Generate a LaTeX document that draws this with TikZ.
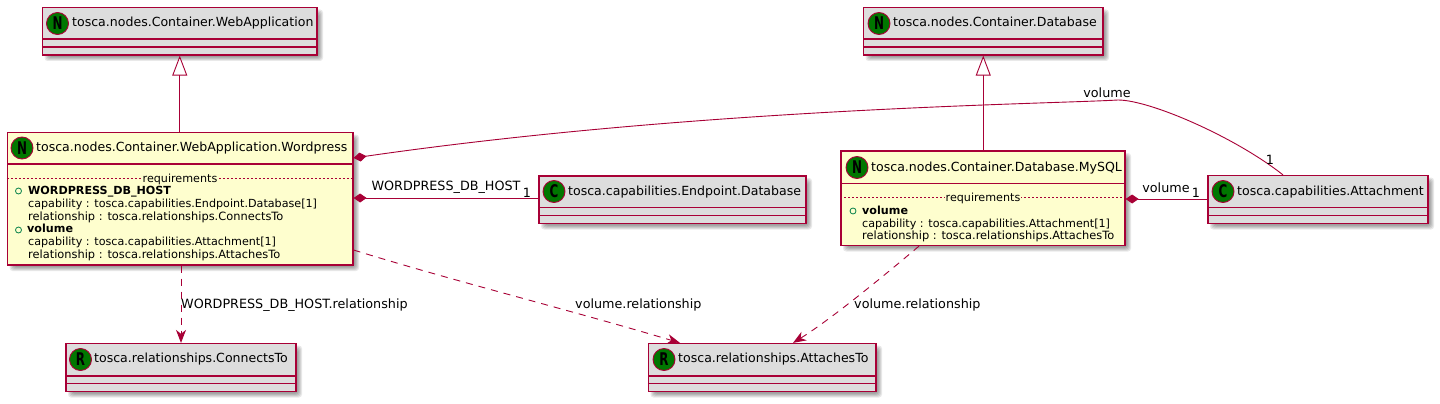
\documentclass[tikz,border=0pt]{standalone}
\usepackage{fontspec}
\usepackage{graphicx}
\setmainfont{DejaVu Sans}
\usetikzlibrary{arrows.meta,calc}
\definecolor{umlline}{HTML}{A80036}
\definecolor{umlfill}{HTML}{FEFECE}
\definecolor{umlgray}{HTML}{DDDDDD}
\definecolor{umlspot}{HTML}{007700}
\definecolor{umlplus}{HTML}{038048}
\newcommand{\spotletter}[1]{\scalebox{.85}[1.25]{#1}}
\tikzset{
  x=1pt,y=-1pt,
  boxline/.style={draw=umlline,line width=1.2pt},
  spot/.style={circle,draw=umlline,fill=umlspot,line width=.9pt,minimum size=22pt,inner sep=0pt,text=black,font=\fontsize{14}{14}\bfseries},
  titletext/.style={anchor=mid west,inner sep=0pt,font=\fontsize{12.55}{14}\selectfont},
  membertext/.style={anchor=mid west,inner sep=0pt,font=\fontsize{11.15}{12}\selectfont},
  relationtext/.style={anchor=mid west,inner sep=0pt,font=\fontsize{11.4}{12}\selectfont},
  memberbold/.style={anchor=mid west,inner sep=0pt,font=\fontsize{11.15}{12}\bfseries},
  sectiontext/.style={fill=umlfill,inner sep=1pt,font=\fontsize{11.15}{12}\selectfont},
  plusmark/.style={circle,draw=umlplus,line width=.8pt,minimum size=6pt,inner sep=0pt},
  edgetext/.style={inner sep=0pt,font=\fontsize{12.75}{14}\selectfont},
  edgeline/.style={draw=umlline,line width=.9pt},
  depline/.style={edgeline,dash pattern=on 7pt off 6pt,-{Stealth[length=13pt,width=10pt,inset=4pt,fill=umlline,sep=0pt]}},
  compline/.style={edgeline,{Diamond[length=13pt,width=9pt,fill=umlline]}-},
  genline/.style={edgeline,-{Triangle[open,length=20pt,width=15pt,fill=white]}},
  dotsep/.style={umlline,line width=.7pt,dash pattern=on 2pt off 2pt},
}
% name x1 y1 x2 y2 sep1 sep2 letter title fill
\newcommand{\umlbox}[9]{%
  \foreach \g in {0,1,2,3,4}{\fill[black,opacity=.085,rounded corners=3pt]
    (#2+4-\g+2,#3+4-\g+2) rectangle (#4+4+\g-2,#5+4+\g-2);}
  \node[boxline,fill=#9,rectangle,inner sep=0pt,minimum width=#4pt-#2pt,minimum height=#5pt-#3pt] (#1) at ({(#2+#4)/2},{(#3+#5)/2}) {};
  \draw[boxline] (#2,#6) -- (#4,#6);
}
\newcommand{\spotsep}[2]{\draw[boxline] (#1.west |- 0,#2) -- (#1.east |- 0,#2);}
\begin{document}
\begin{tikzpicture}
\useasboundingbox[fill=white] (0,0) rectangle (1440,404);

% boxes
\umlbox{webapp}{42.5}{7.5}{317}{55}{39}{47}{N}{umlgray}
\spotsep{webapp}{47}
\node[spot] (webappc) at (57.5,23.5) {\spotletter{N}};
\node[titletext] (webappt) at (72,24) {tosca.nodes.Container.WebApplication};

\umlbox{wp}{7.5}{132.5}{353}{265}{164}{0}{N}{umlfill}
\node[spot] (wpc) at (22,148) {\spotletter{N}};
\node[titletext] (wpt) at (36,148.5) {tosca.nodes.Container.WebApplication.Wordpress};
\draw[dotsep] (wp.west |- 0,178) -- (wp.east |- 0,178);
\node[sectiontext] (wpr) at (180,179) {requirements};
\node[plusmark] (wpp1) at (18.5,191) {};
\node[memberbold] (wpm1) at (28,192) {WORDPRESS\_DB\_HOST};
\node[membertext] (wpm2) at (28,205) {capability : tosca.capabilities.Endpoint.Database[1]};
\node[relationtext] (wpm3) at (28,218) {relationship : tosca.relationships.ConnectsTo};
\node[plusmark] (wpp2) at (18.5,230) {};
\node[memberbold] (wpm4) at (27,230) {volume};
\node[membertext] (wpm5) at (28,243) {capability : tosca.capabilities.Attachment[1]};
\node[relationtext] (wpm6) at (28,256) {relationship : tosca.relationships.AttachesTo};

\umlbox{endpoint}{539}{176}{806}{223.5}{207.5}{0}{C}{umlgray}
\spotsep{endpoint}{215.5}
\node[spot] (endpointc) at (554,191.5) {\spotletter{C}};
\node[titletext] (endpointt) at (568,192.5) {tosca.capabilities.Endpoint.Database};

\umlbox{db}{863.5}{7.5}{1103}{55}{39}{47}{N}{umlgray}
\spotsep{db}{47}
\node[spot] (dbc) at (879,23.5) {\spotletter{N}};
\node[titletext] (dbt) at (893,24) {tosca.nodes.Container.Database};

\umlbox{mysql}{841}{151}{1125}{245.5}{183.5}{0}{N}{umlfill}
\node[spot] (mysqlc) at (857,167.5) {\spotletter{N}};
\node[titletext] (mysqlt) at (871,168.5) {tosca.nodes.Container.Database.MySQL};
\draw[dotsep] (mysql.west |- 0,197) -- (mysql.east |- 0,197);
\node[sectiontext] (mysqlr) at (983,198) {requirements};
\node[plusmark] (mysqlp) at (853,211) {};
\node[memberbold] (mysqlm1) at (862,212) {volume};
\node[membertext] (mysqlm2) at (862,224.5) {capability : tosca.capabilities.Attachment[1]};
\node[relationtext] (mysqlm3) at (862,237) {relationship : tosca.relationships.AttachesTo};

\umlbox{attach}{1208}{175.5}{1428}{223.5}{207.5}{0}{C}{umlgray}
\spotsep{attach}{215.5}
\node[spot] (attachc) at (1223,191.5) {\spotletter{C}};
\node[titletext] (attacht) at (1237,192.5) {tosca.capabilities.Attachment};

\umlbox{conn}{66}{343.5}{296}{391.5}{376}{0}{R}{umlgray}
\spotsep{conn}{383.5}
\node[spot] (connc) at (80.5,359.5) {\spotletter{R}};
\node[titletext] (connt) at (94,360) {tosca.relationships.ConnectsTo};

\umlbox{att}{648.5}{343.5}{876}{391.5}{376}{0}{R}{umlgray}
\spotsep{att}{383.5}
\node[spot] (attc) at (664,359.5) {\spotletter{R}};
\node[titletext] (attt) at (678,360) {tosca.relationships.AttachesTo};

% connectors
\draw[genline] (wp.north -| webapp.south) -- (webapp.south);
\draw[genline] (mysql.north -| db.south) -- (db.south);

\draw[compline] (wp.east |- 0,158) .. controls (700,108) and (1050,104) .. (1118,100)
   .. controls (1150,100) and (1235,137) .. (attach.north -| 1283,0);
\draw[compline] (wp.east |- 0,198) -- (endpoint.west |- 0,198);
\draw[compline] (mysql.east |- 0,199) -- (attach.west |- 0,199);

\draw[depline] (wp.south -| conn.north) -- (conn.north);
\draw[depline] (wp.east |- 0,250) .. controls (450,280) and (570,310) .. (att.north -| 680,0);
\draw[depline] (mysql.south -| 919,0) .. controls (885,275) and (830,320) .. (att.north -| 793,0);

% labels
\node[edgetext] (l1) at (446,187.5) {WORDPRESS\_DB\_HOST};
\node[edgetext] (l2) at (527,193) {1};
\node[edgetext] (l3) at (1107,93) {volume};
\node[edgetext] (l4) at (1270,160) {1};
\node[edgetext] (l5) at (1166,188) {volume};
\node[edgetext] (l6) at (1196,193) {1};
\node[edgetext,anchor=mid west] (l7) at (181,306) {WORDPRESS\_DB\_HOST.relationship};
\node[edgetext,anchor=mid west] (l8) at (575,306) {volume.relationship};
\node[edgetext,anchor=mid west] (l9) at (854,306) {volume.relationship};
\end{tikzpicture}
\end{document}
